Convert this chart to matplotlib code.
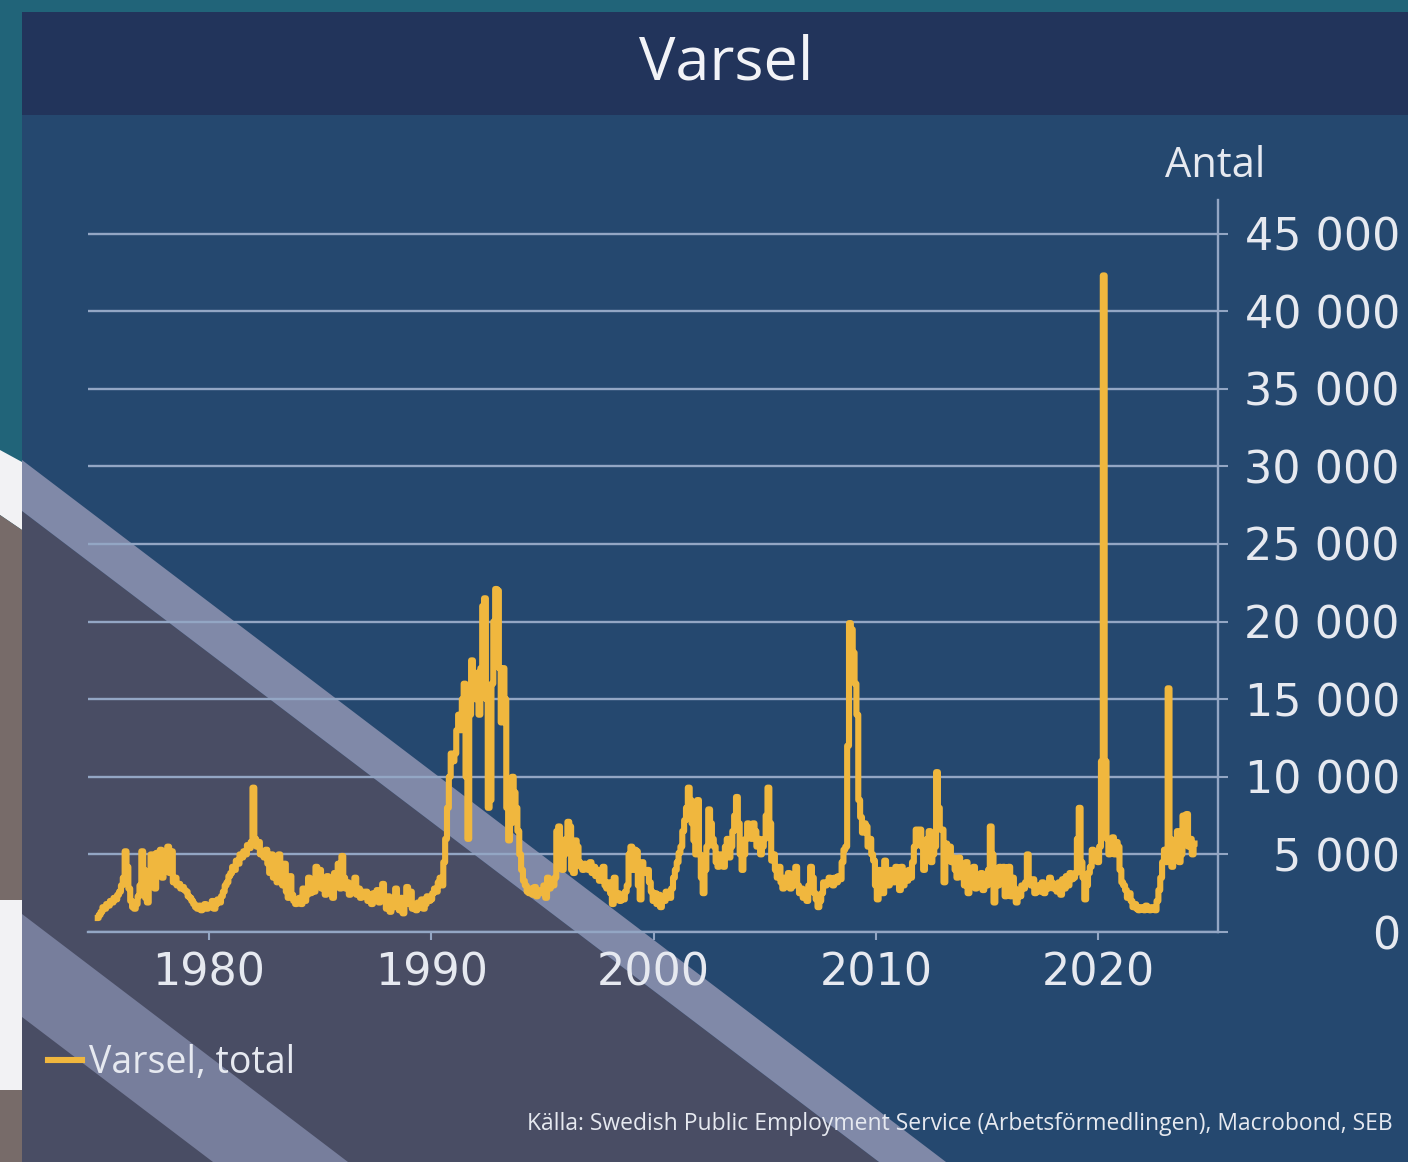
import numpy as np
import matplotlib
matplotlib.use('Agg')
import matplotlib.pyplot as plt
from matplotlib.patches import Polygon
from matplotlib.ticker import FuncFormatter

# Monthly notices of redundancy ("varsel"), Jan 1975 onwards
start_year = 1975
varsel = [
    900, 1100, 1300, 1600, 1500, 1800, 1700, 2000, 1900, 2200, 2100, 2400,          # 1975
    2600, 3000, 3500, 5200, 4200, 2800, 2000, 1600, 1500, 1800, 2300, 3000,         # 1976
    5200, 4000, 2200, 1900, 3500, 5000, 4300, 2800, 5100, 4000, 5300, 3500,         # 1977
    5000, 4200, 5500, 3800, 5200, 3200, 3500, 3000, 3100, 2800, 2900, 2700,         # 1978
    2600, 2300, 2200, 2000, 1800, 1600, 1500, 1700, 1400, 1600, 1800, 1500,         # 1979
    1700, 1600, 2000, 1500, 1800, 2100, 1900, 2300, 2600, 3000, 3200, 3600,         # 1980
    3800, 4200, 4000, 4600, 4400, 5000, 4800, 5200, 5000, 5600, 5400, 5800,         # 1981
    9300, 6000, 5500, 5800, 5000, 5200, 4800, 5300, 4400, 3800, 5000, 3500,         # 1982
    4800, 3200, 5000, 3500, 3000, 4400, 2600, 2200, 3600, 2400, 2000, 1800,         # 1983
    1900, 2200, 1800, 2800, 2000, 2400, 3500, 2500, 3200, 2600, 4200, 3000,         # 1984
    4000, 2800, 3200, 2400, 3600, 2600, 3000, 2200, 3800, 3000, 4400, 2800,         # 1985
    4900, 3500, 2800, 3200, 2400, 3000, 2600, 3500, 2400, 2800, 2200, 2600,         # 1986
    2300, 2600, 2000, 2400, 1800, 2500, 2100, 2700, 1900, 2600, 3100, 2200,         # 1987
    1500, 2300, 1300, 2000, 1600, 2800, 1800, 1400, 2200, 1200, 1800, 2900,         # 1988
    1800, 2600, 1500, 1700, 1400, 1900, 1600, 2100, 1500, 1800, 2300, 2000,         # 1989
    2100, 2500, 2800, 2600, 3200, 3500, 3000, 4500, 6000, 8000, 10000, 11500,       # 1990
    11000, 11500, 13000, 14000, 13000, 15000, 16000, 10000, 6000, 14000, 17500, 16500,  # 1991
    15000, 16700, 14000, 17000, 21000, 21500, 15000, 8000, 8500, 16000, 20000, 22100,   # 1992
    22000, 17000, 13500, 17000, 15000, 8000, 5900, 7000, 10000, 9000, 8000, 6500,    # 1993
    5000, 4000, 3300, 3000, 2600, 2500, 2800, 2400, 2900, 2300, 2500, 2700,         # 1994
    2500, 3000, 2200, 3500, 2800, 3300, 3000, 3500, 6500, 6800, 5500, 4000,         # 1995
    5000, 6000, 7100, 6800, 4000, 3800, 5900, 5500, 4500, 4200, 4000, 4400,         # 1996
    4200, 4000, 4500, 3800, 4200, 3600, 4000, 3300, 3800, 4200, 3000, 2800,         # 1997
    3200, 2500, 1800, 3500, 2200, 2500, 2000, 2300, 2100, 2600, 3000, 5000,         # 1998
    5500, 4000, 5300, 5200, 3000, 2100, 4500, 4000, 3800, 4000, 3200, 2600,         # 1999
    2000, 2500, 1800, 2400, 1600, 2200, 2000, 2600, 2300, 2200, 2800, 3500,         # 2000
    4000, 4500, 5100, 5500, 6500, 7200, 8000, 9300, 8500, 7000, 5900, 5000,         # 2001
    8500, 5000, 3500, 2500, 4000, 5500, 7900, 7000, 6000, 5500, 4500, 4200,         # 2002
    5000, 4500, 4200, 5500, 6000, 4800, 5500, 6500, 7500, 8700, 7000, 5000,         # 2003
    4000, 5000, 6000, 7000, 6500, 6000, 7000, 6500, 5500, 6000, 5000, 5500,         # 2004
    6000, 7500, 9300, 7000, 4600, 5000, 4000, 3500, 4200, 3200, 2800, 3500,         # 2005
    3000, 3800, 2800, 3500, 3000, 4200, 3000, 2500, 2800, 2200, 2500, 2000,         # 2006
    3000, 4200, 3500, 2500, 2100, 1600, 2000, 2500, 3200, 3000, 3200, 3500,         # 2007
    3300, 3000, 3500, 3200, 3600, 3400, 4500, 5300, 5500, 12000, 19900, 19500,      # 2008
    18000, 16000, 14000, 8500, 7400, 6400, 7000, 6800, 5500, 6000, 5000, 4600,      # 2009
    3000, 2100, 4000, 3500, 2500, 4600, 3300, 3000, 4000, 3600, 3200, 4200,         # 2010
    3500, 2700, 4200, 3000, 3800, 3300, 4000, 3500, 4500, 5500, 6600, 6000,         # 2011
    6600, 5500, 4000, 5000, 6000, 6500, 4500, 5000, 5500, 10300, 8000, 6600,        # 2012
    6600, 3200, 5700, 5000, 5500, 4500, 4800, 4000, 3500, 4800, 4200, 3500,         # 2013
    3000, 4500, 2500, 3800, 3200, 4200, 2800, 3500, 3000, 3800, 2700, 3300,         # 2014
    3000, 4000, 6800, 5000, 1900, 3500, 3000, 4200, 3800, 4200, 2300, 3500,         # 2015
    4200, 2300, 3500, 2800, 1900, 2500, 2300, 3000, 2800, 3200, 5000, 3300,         # 2016
    3000, 3400, 2500, 2800, 3000, 2600, 3200, 2500, 3000, 2800, 3500, 3200,         # 2017
    2800, 3000, 2600, 3200, 2400, 3400, 2800, 3600, 3000, 3800, 3400, 3500,         # 2018
    3800, 6000, 8000, 4500, 3500, 2100, 3000, 3800, 4200, 5300, 4800, 5000,         # 2019
    4500, 5500, 11000, 42300, 11000, 6000, 5000, 5500, 6100, 5000, 5800, 5500,      # 2020
    4000, 3200, 3000, 2700, 2200, 2500, 2000, 1600, 1800, 1500, 1400, 1600,         # 2021
    1500, 1400, 1700, 1500, 1400, 1600, 1500, 1400, 2000, 2700, 3500, 4500,         # 2022
    5300, 4500, 15700, 6000, 4200, 5000, 5500, 6500, 4500, 5000, 7500, 7000,        # 2023
    7600, 5500, 6000, 5000, 5700,                                                  # 2024
]
dates = start_year + np.arange(len(varsel)) / 12.0

x_ticks = [1980, 1990, 2000, 2010, 2020]
y_ticks = [0, 5000, 10000, 15000, 20000, 25000, 30000, 35000, 40000, 45000]

title = "Varsel"
unit = "Antal"
series_label = "Varsel, total"
source = "Källa: Swedish Public Employment Service (Arbetsförmedlingen), Macrobond, SEB"

W, H = 1408, 1162
plt.rcParams['font.family'] = ['Open Sans', 'DejaVu Sans']

LINE = '#f0b73e'
GRID = '#93a6c4'
TXT = '#e6e9f0'


def fx(x):
    return x / W


def fy(y):
    return 1 - y / H


def poly(points, color, z=-10):
    p = Polygon([(fx(a), fy(b)) for a, b in points], closed=True,
                transform=fig.transFigure, facecolor=color, edgecolor='none',
                zorder=z)
    fig.patches.append(p)


fig = plt.figure(figsize=(W / 100, H / 100), dpi=100)
fig.patch.set_facecolor('#216479')

# background panels
poly([(22, 12), (W, 12), (W, H), (22, H)], '#25486f', z=-12)
poly([(22, 12), (W, 12), (W, 115), (22, 115)], '#22345b', z=-11)
# left margin decoration
poly([(0, 450), (22, 462), (22, 530), (0, 515)], '#f2f2f4', z=-11)
poly([(0, 515), (22, 530), (22, 900), (0, 900)], '#776b69', z=-11)
poly([(0, 900), (22, 900), (22, 1090), (0, 1090)], '#f2f2f4', z=-11)
poly([(0, 1090), (22, 1090), (22, H), (0, H)], '#776b69', z=-11)
# diagonal grey area and light stripes
poly([(22, 511), (879, H), (22, H)], '#494d64', z=-10)
poly([(22, 460), (22, 511), (879, H), (946, H)], '#8089a8', z=-9)
poly([(22, 914), (22, 1017), (213, H), (348, H)], '#777e9c', z=-9)

ax = fig.add_axes([fx(88), fy(932), fx(1218) - fx(88), fy(200) - fy(932)])
ax.patch.set_alpha(0)

ax.plot(dates, varsel, color=LINE, lw=4.4, drawstyle='steps-mid', zorder=5,
        label=series_label)

ax.set_xlim(1974.56, 2025.39)
ax.set_ylim(0, 47160)

ax.set_yticks(y_ticks)
ax.set_xticks(x_ticks)
ax.yaxis.tick_right()
ax.yaxis.set_major_formatter(FuncFormatter(lambda v, p: f"{v:,.0f}".replace(",", " ")))
ax.grid(axis='y', color=GRID, lw=1.7, zorder=1)

for s in ['left', 'top']:
    ax.spines[s].set_visible(False)
ax.spines['right'].set_color(GRID)
ax.spines['right'].set_linewidth(1.7)
ax.spines['bottom'].set_color(GRID)
ax.spines['bottom'].set_linewidth(1.7)

ax.tick_params(axis='x', colors=GRID, length=6, width=1.5, labelsize=32,
               labelcolor=TXT, pad=8)
ax.tick_params(axis='y', colors=GRID, length=7, width=1.5, labelsize=32,
               labelcolor=TXT, pad=124)
for lab in ax.get_xticklabels() + ax.get_yticklabels():
    lab.set_family('DejaVu Sans')
for lab in ax.get_yticklabels():
    lab.set_horizontalalignment('right')

fig.text(fx(726), fy(64), title, ha='center', va='center', fontsize=44, color='#f2f3f7')
fig.text(fx(1215), fy(166), unit, ha='center', va='center', fontsize=30, color=TXT)

fig.legend(loc='center left', bbox_to_anchor=(fx(14), fy(1063)), frameon=False,
           handlelength=0.9, handletextpad=0.2, fontsize=27, labelcolor=TXT)
fig.text(fx(1393), fy(1124), source, ha='right', va='center', fontsize=16.5, color=TXT)

fig.savefig('out.png', dpi=100, facecolor=fig.get_facecolor())
